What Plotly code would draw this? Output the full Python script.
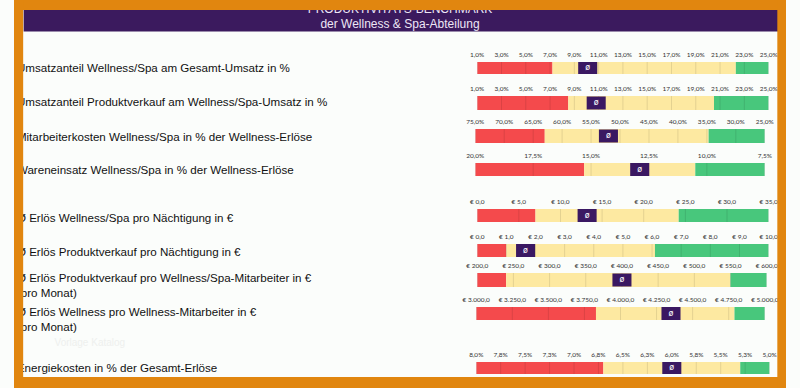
import plotly.graph_objects as go

# ---------------- data ----------------
row_labels = [
    ["Umsatzanteil Wellness/Spa am Gesamt-Umsatz in %"],
    ["Umsatzanteil Produktverkauf am Wellness/Spa-Umsatz in %"],
    ["Mitarbeiterkosten Wellness/Spa in % der Wellness-Erlöse"],
    ["Wareneinsatz Wellness/Spa in % der Wellness-Erlöse"],
    ["Ø Erlös Wellness/Spa pro Nächtigung in €"],
    ["Ø Erlös Produktverkauf pro Nächtigung in €"],
    ["Ø Erlös Produktverkauf pro Wellness/Spa-Mitarbeiter in €", "(pro Monat)"],
    ["Ø Erlös Wellness pro Wellness-Mitarbeiter in €", "(pro Monat)"],
    ["Energiekosten in % der Gesamt-Erlöse"],
]

axis_start = [1, 1, 75, 20, 0, 0, 200, 3000, 8.0]
axis_end = [25, 25, 25, 7.5, 35, 10, 600, 5000, 5.0]
red_end = [7.2, 8.5, 63, 15.3, 7.0, 1.0, 240, 3830, 6.7]
yellow_end = [22.3, 20.5, 34.7, 10.5, 24.2, 6.1, 550, 4790, 5.3]
benchmark = [10.1, 10.8, 52, 12.9, 13.2, 1.66, 400, 4350, 6.0]

tick_vals = [
    [1, 3, 5, 7, 9, 11, 13, 15, 17, 19, 21, 23, 25],
    [1, 3, 5, 7, 9, 11, 13, 15, 17, 19, 21, 23, 25],
    [75, 70, 65, 60, 55, 50, 45, 40, 35, 30, 25],
    [20, 17.5, 15, 12.5, 10, 7.5],
    [0, 5, 10, 15, 20, 25, 30, 35],
    [0, 1, 2, 3, 4, 5, 6, 7, 8, 9, 10],
    [200, 250, 300, 350, 400, 450, 500, 550, 600],
    [3000, 3250, 3500, 3750, 4000, 4250, 4500, 4750, 5000],
    [8.0, 7.75, 7.5, 7.25, 7.0, 6.75, 6.5, 6.25, 6.0, 5.75, 5.5, 5.25, 5.0],
]
tick_text = [
    ["1,0%", "3,0%", "5,0%", "7,0%", "9,0%", "11,0%", "13,0%", "15,0%", "17,0%", "19,0%", "21,0%", "23,0%", "25,0%"],
    ["1,0%", "3,0%", "5,0%", "7,0%", "9,0%", "11,0%", "13,0%", "15,0%", "17,0%", "19,0%", "21,0%", "23,0%", "25,0%"],
    ["75,0%", "70,0%", "65,0%", "60,0%", "55,0%", "50,0%", "45,0%", "40,0%", "35,0%", "30,0%", "25,0%"],
    ["20,0%", "17,5%", "15,0%", "12,5%", "10,0%", "7,5%"],
    ["€ 0,0", "€ 5,0", "€ 10,0", "€ 15,0", "€ 20,0", "€ 25,0", "€ 30,0", "€ 35,0"],
    ["€ 0,0", "€ 1,0", "€ 2,0", "€ 3,0", "€ 4,0", "€ 5,0", "€ 6,0", "€ 7,0", "€ 8,0", "€ 9,0", "€ 10,0"],
    ["€ 200,0", "€ 250,0", "€ 300,0", "€ 350,0", "€ 400,0", "€ 450,0", "€ 500,0", "€ 550,0", "€ 600,0"],
    ["€ 3.000,0", "€ 3.250,0", "€ 3.500,0", "€ 3.750,0", "€ 4.000,0", "€ 4.250,0", "€ 4.500,0", "€ 4.750,0", "€ 5.000,0"],
    ["8,0%", "7,8%", "7,5%", "7,3%", "7,0%", "6,8%", "6,5%", "6,3%", "6,0%", "5,8%", "5,5%", "5,3%", "5,0%"],
]

title_lines = ["PRODUKTIVITÄTS-BENCHMARK", "der Wellness & Spa-Abteilung"]
watermark = "Vorlage Katalog"

# ---------------- layout geometry (pixels) ----------------
W, H = 800, 388
bar_top = [62, 96, 129, 163, 209, 244, 273, 307, 362]
bar_bot = [74, 110, 143, 176, 222, 257, 287, 320, 374]
bar_x0 = [480, 480, 478, 478, 480, 480, 480, 479, 479]
bar_x1 = [782, 782, 778, 778, 782, 782, 780, 778, 783]
label_y = [[69], [103], [138], [171], [219], [253], [279, 294], [313, 328], [369]]

RED = "#F44A4C"
YELLOW = "#FDE9A1"
GREEN = "#48C77C"
PURPLE = "#3A1862"
ORANGE = "#E1860F"
HEADER = "#3B1A5E"

fig = go.Figure()
layout = {}

for i in range(9):
    n = i + 1
    xa = "x" if n == 1 else f"x{n}"
    ya = "y" if n == 1 else f"y{n}"
    a0, a1 = axis_start[i], axis_end[i]
    segs = [(a0, red_end[i], RED), (red_end[i], yellow_end[i], YELLOW), (yellow_end[i], a1, GREEN)]
    for s0, s1, col in segs:
        fig.add_trace(go.Bar(
            x=[abs(s1 - s0)], y=[0], base=[min(s0, s1)], orientation="h",
            width=1, marker=dict(color=col, line=dict(width=0)),
            xaxis=xa, yaxis=ya, showlegend=False, hoverinfo="skip"))
    # faint grid lines through the bar at tick positions
    gx, gy = [], []
    for t in tick_vals[i]:
        gx += [t, t, None]
        gy += [-0.5, 0.5, None]
    fig.add_trace(go.Scatter(x=gx, y=gy, mode="lines",
                             line=dict(color="rgba(0,0,0,0.10)", width=1),
                             xaxis=xa, yaxis=ya, showlegend=False, hoverinfo="skip"))
    # benchmark marker
    fig.add_trace(go.Scatter(
        x=[benchmark[i]], y=[0], mode="markers+text", text=["ø"],
        textposition="middle center",
        textfont=dict(color="white", size=8, family="DejaVu Sans"),
        marker=dict(symbol="line-ew", size=13.6, line=dict(color=PURPLE, width=13)),
        xaxis=xa, yaxis=ya, showlegend=False, hoverinfo="skip"))

    layout[f"xaxis{'' if n == 1 else n}"] = dict(
        domain=[bar_x0[i] / W, bar_x1[i] / W], range=[a0, a1], anchor=ya,
        side="top", tickmode="array", tickvals=tick_vals[i], ticktext=tick_text[i],
        tickfont=dict(size=6.5, color="#333333", family="Lato"),
        ticks="", showgrid=False, zeroline=False, showline=False,
        ticklabelstandoff=3, fixedrange=True)
    layout[f"yaxis{'' if n == 1 else n}"] = dict(
        domain=[1 - bar_bot[i] / H, 1 - bar_top[i] / H], range=[-0.5, 0.5], anchor=xa,
        visible=False, fixedrange=True)

# overlay pixel axes for texts
layout["xaxis10"] = dict(domain=[0, 1], range=[0, W], anchor="y10", visible=False, fixedrange=True)
layout["yaxis10"] = dict(domain=[0, 1], range=[H, 0], anchor="x10", visible=False, fixedrange=True)

tx, ty, tt = [], [], []
for i in range(9):
    for line, yy in zip(row_labels[i], label_y[i]):
        tx.append(3)
        ty.append(yy)
        tt.append(line)
fig.add_trace(go.Scatter(x=tx, y=ty, text=tt, mode="text", textposition="middle right",
                         textfont=dict(family="Liberation Sans", size=11.6, color="#111111"),
                         xaxis="x10", yaxis="y10", showlegend=False, hoverinfo="skip"))
fig.add_trace(go.Scatter(x=[400, 400], y=[9.5, 25], text=title_lines, mode="text",
                         textposition="middle center",
                         textfont=dict(family="Liberation Sans", size=12, color="#EDE6F5"),
                         xaxis="x10", yaxis="y10", showlegend=False, hoverinfo="skip"))
fig.add_trace(go.Scatter(x=[42], y=[343], text=[watermark], mode="text",
                         textposition="middle right",
                         textfont=dict(family="Liberation Sans", size=10, color="#EEF0EE"),
                         xaxis="x10", yaxis="y10", showlegend=False, hoverinfo="skip"))

shapes = [
    dict(type="rect", xref="paper", yref="paper", x0=10 / W, x1=792 / W, y0=1 - 31.5 / H, y1=1 - 9 / H,
         fillcolor=HEADER, line=dict(width=0), layer="below"),
    # orange frame
    dict(type="rect", xref="paper", yref="paper", x0=0, x1=1, y0=1 - 10 / H, y1=1,
         fillcolor=ORANGE, line=dict(width=0), layer="above"),
    dict(type="rect", xref="paper", yref="paper", x0=0, x1=1, y0=0, y1=1 - 377 / H,
         fillcolor=ORANGE, line=dict(width=0), layer="above"),
    dict(type="rect", xref="paper", yref="paper", x0=0, x1=9.5 / W, y0=0, y1=1,
         fillcolor=ORANGE, line=dict(width=0), layer="above"),
    dict(type="rect", xref="paper", yref="paper", x0=791 / W, x1=1, y0=0, y1=1,
         fillcolor=ORANGE, line=dict(width=0), layer="above"),
]

fig.update_layout(
    width=W, height=H, margin=dict(l=0, r=0, t=0, b=0),
    paper_bgcolor="#FBFDFB", plot_bgcolor="rgba(0,0,0,0)",
    barmode="overlay", showlegend=False, shapes=shapes, **layout)

fig.write_html("out.html", config={"displayModeBar": False},
               post_script="document.body.style.margin='0';document.body.style.overflow='hidden';")
